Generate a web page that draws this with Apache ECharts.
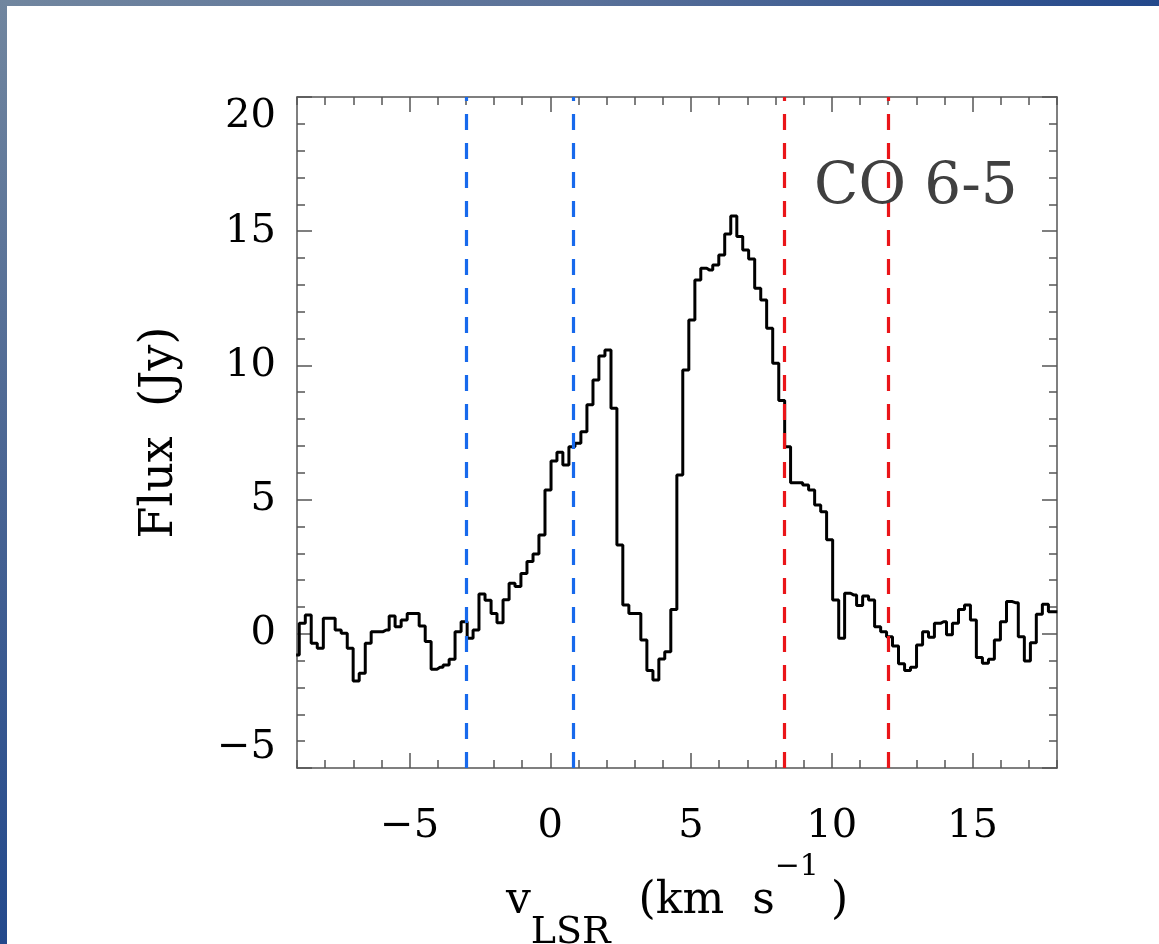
<!DOCTYPE html>
<html>
<head>
<meta charset="utf-8">
<script src="https://cdn.jsdelivr.net/npm/echarts@6/dist/echarts.min.js"></script>
<style>
html,body{margin:0;padding:0;background:#ffffff;}
#chart{width:1159px;height:944px;}
</style>
</head>
<body>
<div id="chart"></div>
<script>
// Channel velocities (km/s)
const velocity = [
  -9.03, -8.81, -8.60, -8.39, -8.17, -7.96, -7.75, -7.54, -7.32, -7.11,
  -6.90, -6.68, -6.47, -6.26, -6.05, -5.83, -5.62, -5.41, -5.19, -4.98,
  -4.77, -4.55, -4.34, -4.13, -3.92, -3.70, -3.49, -3.28, -3.06, -2.85,
  -2.64, -2.43, -2.21, -2.00, -1.79, -1.57, -1.36, -1.15, -0.94, -0.72,
  -0.51, -0.30, -0.08, 0.13, 0.34, 0.55, 0.77, 0.98, 1.19, 1.41,
  1.62, 1.83, 2.05, 2.26, 2.47, 2.68, 2.90, 3.11, 3.32, 3.54,
  3.75, 3.96, 4.17, 4.39, 4.60, 4.81, 5.03, 5.24, 5.45, 5.66,
  5.88, 6.09, 6.30, 6.52, 6.73, 6.94, 7.15, 7.37, 7.58, 7.79,
  8.01, 8.22, 8.43, 8.64, 8.86, 9.07, 9.28, 9.50, 9.71, 9.92,
  10.14, 10.35, 10.56, 10.77, 10.99, 11.20, 11.41, 11.63, 11.84, 12.05,
  12.26, 12.48, 12.69, 12.90, 13.12, 13.33, 13.54, 13.75, 13.97, 14.18,
  14.39, 14.61, 14.82, 15.03, 15.24, 15.46, 15.67, 15.88, 16.10, 16.31,
  16.52, 16.73, 16.95, 17.16, 17.37, 17.59, 17.80, 18.01
];
// Flux (Jy) per channel
const flux = [
  -0.79, 0.39, 0.70, -0.35, -0.54, 0.58, 0.58, 0.14, 0.02, -0.54,
  -1.76, -1.47, -0.35, 0.08, 0.08, 0.14, 0.66, 0.26, 0.51, 0.76,
  0.76, 0.29, -0.29, -1.32, -1.25, -1.16, -0.95, 0.08, 0.45, -0.17,
  0.14, 1.48, 1.25, 0.76, 0.41, 1.27, 1.88, 1.76, 2.25, 2.69,
  2.97, 3.68, 5.36, 6.44, 6.76, 6.29, 6.97, 7.10, 7.53, 8.53,
  9.46, 10.35, 10.57, 8.40, 3.31, 1.07, 0.76, 0.76, -0.23, -1.37,
  -1.72, -0.94, -0.67, 0.91, 5.92, 9.83, 11.69, 13.18, 13.62, 13.55,
  13.74, 14.11, 14.90, 15.57, 14.80, 14.30, 13.96, 12.87, 12.44, 11.38,
  10.08, 8.69, 6.97, 5.63, 5.63, 5.54, 5.36, 4.80, 4.55, 3.50,
  1.26, -0.17, 1.51, 1.45, 1.05, 1.41, 1.26, 0.26, 0.08, -0.11,
  -0.45, -1.12, -1.37, -1.25, -0.42, 0.08, -0.13, 0.39, 0.45, -0.04,
  0.39, 0.91, 1.07, 0.51, -0.88, -1.10, -0.95, -0.23, 0.45, 1.20,
  1.16, -0.11, -1.01, -0.33, 0.73, 1.10, 0.82, 0.82
];
const blueMarkers = [-3.0, 0.8];
const redMarkers = [8.3, 12.0];
const xMajorTicks = [-5, 0, 5, 10, 15];
const xRange = [-9, 18];
const yRange = [-5, 20];
const yStep = 5;
const lineLabel = 'CO 6-5';
const xName = '{v|v}{sub|LSR}{t|  (km  s}{sup|\u22121}{t|)}';
const yName = 'Flux  (Jy)';

const chart = echarts.init(document.getElementById('chart'), null, {renderer: 'canvas'});
const serif = '"DejaVu Serif", "Liberation Serif", serif';
const axisColor = '#555555';
const fmt = v => (v < 0 ? '\u2212' + Math.abs(v) : String(v));
const tickStyle = {color: axisColor, width: 1.5};

const baseX = (pos, major, labels) => ({
  type: 'value', position: pos, min: xRange[0], max: xRange[1],
  axisLine: {show: major, onZero: false, lineStyle: {color: axisColor, width: 1.5}},
  axisTick: major
    ? {show: true, inside: true, length: 15, customValues: xMajorTicks, lineStyle: tickStyle}
    : {show: true, inside: true, length: 8, lineStyle: tickStyle},
  interval: major ? undefined : 1,
  axisLabel: labels
    ? {show: true, customValues: xMajorTicks, formatter: fmt, margin: 39,
       fontFamily: serif, fontSize: 40, color: '#000'}
    : {show: false},
  splitLine: {show: false}, minorTick: {show: false}
});

const baseY = (pos, labels) => ({
  type: 'value', position: pos, min: yRange[0], max: yRange[1], interval: yStep,
  axisLine: {show: true, onZero: false, lineStyle: {color: axisColor, width: 1.5}},
  axisTick: {show: true, inside: true, length: 15, lineStyle: tickStyle},
  minorTick: {show: true, splitNumber: 5, length: 8, lineStyle: tickStyle},
  axisLabel: labels
    ? {show: true, formatter: fmt, margin: 21, fontFamily: serif, fontSize: 40, color: '#000',
       verticalAlignMinLabel: 'bottom', verticalAlignMaxLabel: 'top'}
    : {show: false},
  splitLine: {show: false}
});

const yLeft = Object.assign(baseY('left', true), {
  name: yName, nameLocation: 'middle', nameRotate: 90, nameGap: 114,
  nameTextStyle: {fontFamily: serif, fontSize: 46, color: '#000'}
});
const xBottom = Object.assign(baseX('bottom', true, true), {
  name: xName, nameLocation: 'middle', nameGap: 62,
  nameTextStyle: {
    rich: {
      v: {fontFamily: serif, fontSize: 44, color: '#000', lineHeight: 100, verticalAlign: 'middle'},
      t: {fontFamily: serif, fontSize: 44, color: '#000', lineHeight: 100, verticalAlign: 'middle'},
      sub: {fontFamily: serif, fontSize: 38, color: '#000', lineHeight: 48, verticalAlign: 'bottom'},
      sup: {fontFamily: serif, fontSize: 30, color: '#000', lineHeight: 60, verticalAlign: 'top',
            padding: [0, 12, 0, 0]}
    }
  }
});

const dash = {type: [16, 13], width: 3.2};
const markData = blueMarkers.map(v => ({xAxis: v, lineStyle: Object.assign({color: '#1769ec'}, dash)}))
  .concat(redMarkers.map(v => ({xAxis: v, lineStyle: Object.assign({color: '#ea1519'}, dash)})));

chart.setOption({
  backgroundColor: '#ffffff',
  animation: false,
  grid: {left: 297, top: 97, right: 102, bottom: 176, containLabel: false, outerBoundsMode: 'none'},
  xAxis: [xBottom, baseX('bottom', false, false),
          baseX('top', true, false), baseX('top', false, false)],
  yAxis: [yLeft, baseY('right', false)],
  series: [{
    type: 'line', xAxisIndex: 0, yAxisIndex: 0,
    step: 'middle', showSymbol: false, symbol: 'none', clip: true,
    lineStyle: {color: '#000', width: 3},
    data: velocity.map((v, i) => [v, flux[i]]),
    z: 3,
    markLine: {
      silent: true, symbol: ['none', 'none'], label: {show: false},
      lineStyle: dash,
      emphasis: {disabled: true},
      data: markData
    }
  }],
  graphic: [
    {type: 'rect', left: 0, top: 0, z: 100, shape: {width: 1159, height: 6},
     style: {fill: new echarts.graphic.LinearGradient(0, 0, 1, 0,
       [{offset: 0, color: '#71869f'}, {offset: 0.5, color: '#5a7199'}, {offset: 1, color: '#23488b'}])}},
    {type: 'rect', left: 0, top: 0, z: 100, shape: {width: 7, height: 944},
     style: {fill: new echarts.graphic.LinearGradient(0, 0, 0, 1,
       [{offset: 0, color: '#71869f'}, {offset: 0.5, color: '#4a6593'}, {offset: 1, color: '#23498c'}])}},
    {type: 'text', left: 814, top: 159, z: 100,
     style: {text: lineLabel, font: '58px "DejaVu Serif"', fill: '#404040'}}
  ]
});
</script>
</body>
</html>
